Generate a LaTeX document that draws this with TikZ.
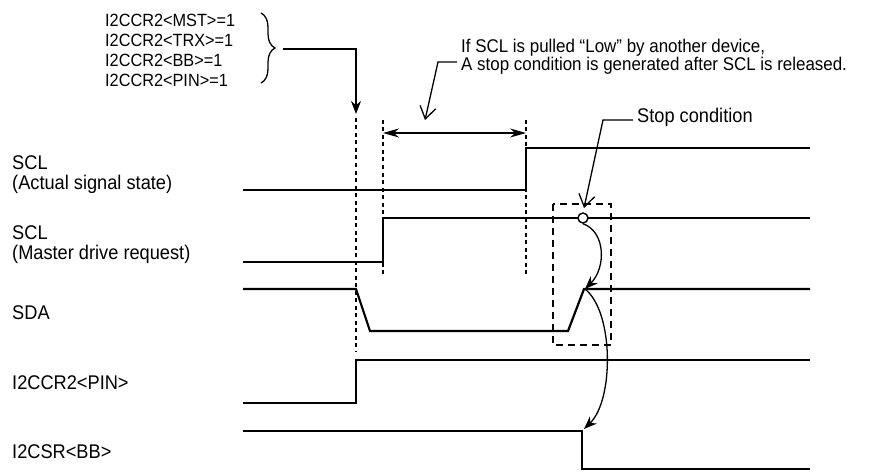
\documentclass[tikz,border=0pt]{standalone}
\usepackage{fontspec}
\setmainfont[FakeStretch=0.92]{Liberation Sans}
\usetikzlibrary{arrows.meta,decorations.pathreplacing}
\begin{document}
\begin{tikzpicture}[x=1pt,y=-1pt,
  sig/.style={line width=2.2pt},
  thinln/.style={line width=1.3pt},
  dotv/.style={line width=2.4pt, dash pattern=on 4pt off 3.5pt},
  dbox/.style={line width=1.4pt, dash pattern=on 7pt off 5pt},
  lbl/.style={font=\fontsize{19.8}{20}\selectfont, anchor=west, align=left, inner sep=0pt},
  farrow/.style={-{Stealth[length=13pt,width=10pt]}},
  oarrow/.style={-{Straight Barb[length=12pt,width=16pt]}}
]
\useasboundingbox (0,0) rectangle (882,473);

% left labels
\node[lbl] (lsclA) at (12,175) {SCL\\(Actual signal state)};
\node[lbl] (lsclM) at (12,245) {SCL\\(Master drive request)};
\node[lbl] (lsda) at (12,313) {SDA};
\node[lbl] (lpin) at (12,383) {I2CCR2<PIN>};
\node[lbl] (lbb) at (12,452) {I2CSR<BB>};

% conditions with brace
\node[lbl, font=\fontsize{17.7}{20}\selectfont] (conds) at (105,50)
  {I2CCR2<MST>=1\\I2CCR2<TRX>=1\\I2CCR2<BB>=1\\I2CCR2<PIN>=1};
\draw[thinln, decorate, decoration={brace, amplitude=14pt}] (261,13) -- (261,83);
\coordinate (brtip) at (283,49);
\coordinate (e1top) at (356,114);
\draw[thinln, farrow] (brtip) -| (e1top);

% dotted vertical lines
\coordinate (d1a) at (356,118); \coordinate (d1b) at (356,352);
\coordinate (d2a) at (383,120); \coordinate (d2b) at (383,275);
\coordinate (d3a) at (526,120); \coordinate (d3b) at (526,275);
\draw[dotv] (d1a) -- (d1b);
\draw[dotv] (d2a) -- (d2b);
\draw[dotv] (d3a) -- (d3b);

% interval arrow
\coordinate (ia) at (383,133); \coordinate (ib) at (526,133);
\draw[thinln, {Stealth[length=16pt,width=9pt]}-{Stealth[length=16pt,width=9pt]}] (ia) -- (ib);

% note
\node[lbl, font=\fontsize{18.4}{18}\selectfont] (note) at (461,57)
  {If SCL is pulled “Low” by another device,\\A stop condition is generated after SCL is released.};
\coordinate (n1) at (457,62); \coordinate (n2) at (438,62); \coordinate (n3) at (425,120);
\draw[thinln, oarrow] (n1) -- (n2) -- (n3);

% dashed box
\draw[dbox] (553,204) rectangle (611,345);

% signals
\draw[sig] (243,190) -- (526,190) -- (526,148) -- (810,148);
\draw[sig] (243,262) -- (383,262) -- (383,218) -- (810,218);
\draw[sig] (243,289) -- (356,289) -- (370,331) -- (568,331) -- (584,289) -- (810,289);
\draw[sig] (243,403) -- (356,403) -- (356,360) -- (810,360);
\draw[sig] (243,431) -- (582,431) -- (582,469) -- (810,469);

% stop condition
\node[circle, draw, line width=1.4pt, fill=white, minimum size=10pt, inner sep=0pt] (circ) at (583,218) {};
\node[lbl] (stop) at (637,117) {Stop condition};
\coordinate (s1) at (633,120); \coordinate (s2) at (603,120); \coordinate (s3) at (584,208);
\draw[thinln, oarrow] (s1) -- (s2) -- (s3);

% curved arrows
\coordinate (sdatop) at (585,289);
\coordinate (bbfall) at (584,429);
\draw[thinln, farrow] (circ.south) .. controls (606,232) and (606,268) .. (sdatop);
\draw[thinln, farrow] (sdatop) .. controls (614,312) and (614,400) .. (bbfall);
\end{tikzpicture}
\end{document}
